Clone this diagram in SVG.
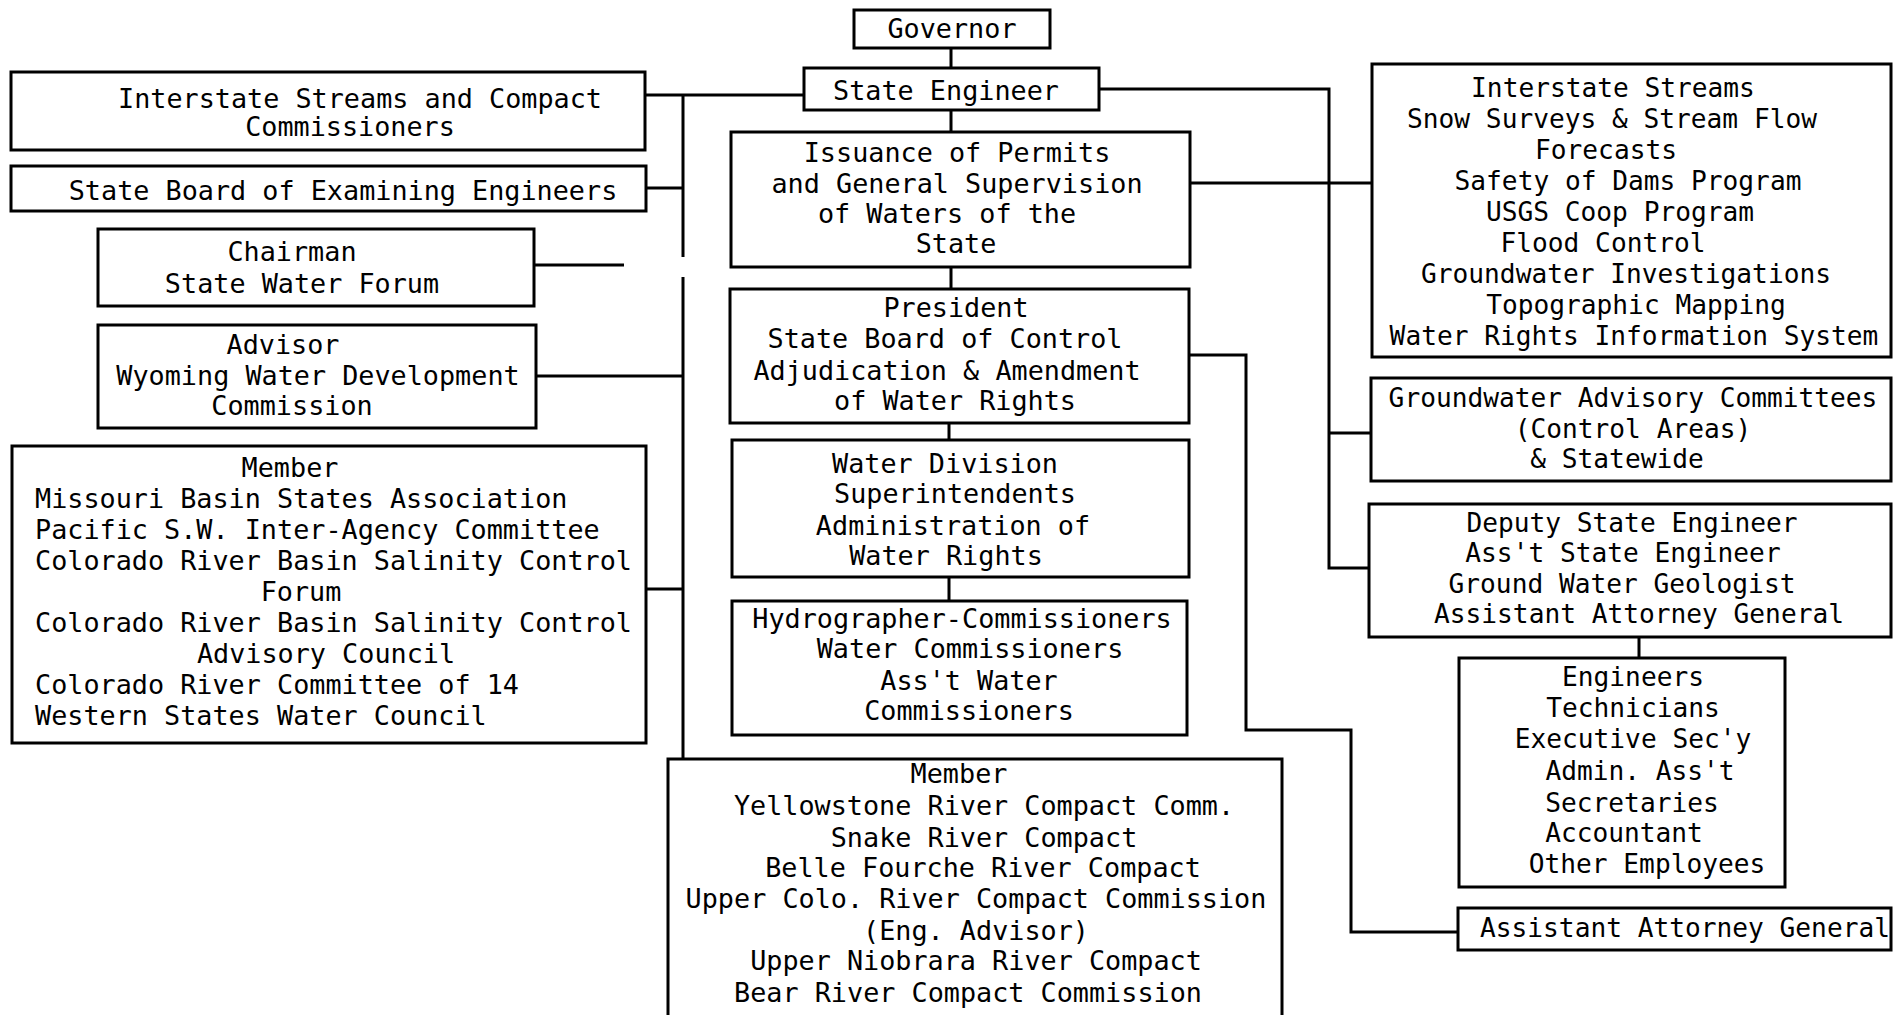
<svg xmlns="http://www.w3.org/2000/svg" width="1895" height="1015" viewBox="0 0 1895 1015">
<style>
.box{fill:#fff;stroke:#000;stroke-width:3}
.t{font-family:"DejaVu Sans Mono","Liberation Mono",monospace;font-size:26.8px;fill:#000;text-anchor:middle}
.r .t{font-size:26.2px}
.l{text-anchor:start}
.c{stroke:#000;stroke-width:3;fill:none}
</style>
<rect width="1895" height="1015" fill="#fff"/>
<g id="connectors">
<path class="c" d="M951 48V68M951 110V132M951 267V289M949 423V440M949 577V601"/>
<path class="c" d="M804 95H645M683 95V257M683 277V760"/>
<path class="c" d="M646 188H683M534 265H624M536 376H683M646 589H683"/>
<path class="c" d="M1099 89H1329V568H1369M1329 433H1371M1190 183H1372"/>
<path class="c" d="M1189 355H1246V730H1351V932H1457"/>
<path class="c" d="M1639 637V658"/>
</g>
<g id="governor"><rect class="box" x="854" y="10" width="196" height="38"/><text class="t" x="952" y="38">Governor</text></g>
<g id="state-engineer"><rect class="box" x="804" y="68" width="295" height="42"/><text class="t" x="946" y="100">State Engineer</text></g>
<g id="issuance"><rect class="box" x="731" y="132" width="459" height="135"/>
<text class="t" x="957" y="162">Issuance of Permits</text>
<text class="t" x="957" y="193">and General Supervision</text>
<text class="t" x="947" y="223">of Waters of the</text>
<text class="t" x="956" y="253">State</text></g>
<g id="president"><rect class="box" x="730" y="289" width="459" height="134"/>
<text class="t" x="956" y="317">President</text>
<text class="t" x="945" y="348">State Board of Control</text>
<text class="t" x="947" y="380">Adjudication &amp; Amendment</text>
<text class="t" x="955" y="410">of Water Rights</text></g>
<g id="water-division"><rect class="box" x="732" y="440" width="457" height="137"/>
<text class="t" x="945" y="473">Water Division</text>
<text class="t" x="955" y="503">Superintendents</text>
<text class="t" x="953" y="535">Administration of</text>
<text class="t" x="946" y="565">Water Rights</text></g>
<g id="hydrographer"><rect class="box" x="732" y="601" width="455" height="134"/>
<text class="t" x="962" y="628">Hydrographer-Commissioners</text>
<text class="t" x="970" y="658">Water Commissioners</text>
<text class="t" x="969" y="690">Ass't Water</text>
<text class="t" x="969" y="720">Commissioners</text></g>
<g id="member-compacts"><rect class="box" x="668" y="759" width="614" height="280"/>
<text class="t" x="959" y="783">Member</text>
<text class="t" x="984" y="815">Yellowstone River Compact Comm.</text>
<text class="t" x="984" y="847">Snake River Compact</text>
<text class="t" x="983" y="877">Belle Fourche River Compact</text>
<text class="t" x="976" y="908">Upper Colo. River Compact Commission</text>
<text class="t" x="976" y="940">(Eng. Advisor)</text>
<text class="t" x="976" y="970">Upper Niobrara River Compact</text>
<text class="t" x="968" y="1002">Bear River Compact Commission</text></g>
<g id="interstate-commissioners"><rect class="box" x="11" y="72" width="634" height="78"/>
<text class="t" x="360" y="108">Interstate Streams and Compact</text>
<text class="t" x="350" y="136">Commissioners</text></g>
<g id="examining-engineers"><rect class="box" x="11" y="166" width="635" height="45"/>
<text class="t" x="343" y="200">State Board of Examining Engineers</text></g>
<g id="water-forum"><rect class="box" x="98" y="229" width="436" height="77"/>
<text class="t" x="292" y="261">Chairman</text>
<text class="t" x="302" y="293">State Water Forum</text></g>
<g id="wwdc"><rect class="box" x="98" y="325" width="438" height="103"/>
<text class="t" x="283" y="354">Advisor</text>
<text class="t" x="318" y="385">Wyoming Water Development</text>
<text class="t" x="292" y="415">Commission</text></g>
<g id="member-associations"><rect class="box" x="12" y="446" width="634" height="297"/>
<text class="t" x="290" y="477">Member</text>
<text class="t l" x="35" y="508">Missouri Basin States Association</text>
<text class="t l" x="35" y="539">Pacific S.W. Inter-Agency Committee</text>
<text class="t l" x="35" y="570">Colorado River Basin Salinity Control</text>
<text class="t" x="301" y="601">Forum</text>
<text class="t l" x="35" y="632">Colorado River Basin Salinity Control</text>
<text class="t" x="326" y="663">Advisory Council</text>
<text class="t l" x="35" y="694">Colorado River Committee of 14</text>
<text class="t l" x="35" y="725">Western States Water Council</text></g>
<g class="r">
<g id="programs"><rect class="box" x="1372" y="64" width="519" height="293"/>
<text class="t" x="1613" y="97">Interstate Streams</text>
<text class="t" x="1612" y="128">Snow Surveys &amp; Stream Flow</text>
<text class="t" x="1606" y="159">Forecasts</text>
<text class="t" x="1628" y="190">Safety of Dams Program</text>
<text class="t" x="1620" y="221">USGS Coop Program</text>
<text class="t" x="1603" y="252">Flood Control</text>
<text class="t" x="1626" y="283">Groundwater Investigations</text>
<text class="t" x="1636" y="314">Topographic Mapping</text>
<text class="t" x="1634" y="345">Water Rights Information System</text></g>
<g id="groundwater-committees"><rect class="box" x="1371" y="378" width="520" height="103"/>
<text class="t" x="1633" y="407">Groundwater Advisory Committees</text>
<text class="t" x="1633" y="438">(Control Areas)</text>
<text class="t" x="1617" y="468">&amp; Statewide</text></g>
<g id="deputy"><rect class="box" x="1369" y="504" width="522" height="133"/>
<text class="t" x="1632" y="532">Deputy State Engineer</text>
<text class="t" x="1623" y="562">Ass't State Engineer</text>
<text class="t" x="1622" y="593">Ground Water Geologist</text>
<text class="t" x="1639" y="623">Assistant Attorney General</text></g>
<g id="staff"><rect class="box" x="1459" y="658" width="326" height="229"/>
<text class="t" x="1633" y="686">Engineers</text>
<text class="t" x="1633" y="717">Technicians</text>
<text class="t" x="1633" y="748">Executive Sec'y</text>
<text class="t" x="1640" y="780">Admin. Ass't</text>
<text class="t" x="1632" y="812">Secretaries</text>
<text class="t" x="1624" y="842">Accountant</text>
<text class="t" x="1647" y="873">Other Employees</text></g>
<g id="attorney"><rect class="box" x="1458" y="908" width="433" height="42"/>
<text class="t" x="1685" y="937">Assistant Attorney General</text></g>
</g>
</svg>
